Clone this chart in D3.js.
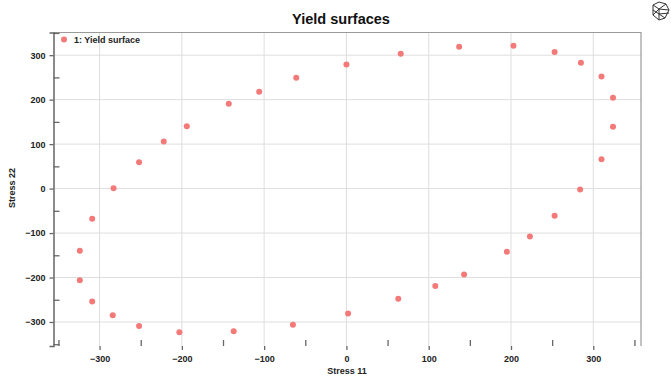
<!DOCTYPE html>
<html><head><meta charset="utf-8">
<script src="https://cdn.jsdelivr.net/npm/d3@7"></script>
<style>body{margin:0;background:#fff}svg{display:block}text{font-family:"Liberation Sans",Arial,sans-serif}</style>
</head><body><svg id="c" width="671" height="379"></svg>
<script>
const title = "Yield surfaces";
const seriesName = "1: Yield surface";
const xLabel = "Stress 11";
const yLabel = "Stress 22";
const xTicks = [-300,-200,-100,0,100,200,300];
const yTicks = [-300,-200,-100,0,100,200,300];
const stress11 = [0,66,137,203,253,285,310,324,324,310,284,253,223,195,143,108,63,2,-65,-137,-203,-252,-284,-309,-324,-324,-309,-283,-252,-222,-194,-143,-106,-61];
const stress22 = [279,303,319,321,307,283,252,204,139,66,-2,-61,-108,-142,-193,-219,-248,-281,-306,-321,-323,-309,-285,-254,-206,-140,-68,1,59,106,140,191,218,249];

const svg = d3.select("#c");
const L=53.5,R=641,T=32.5,B=346;
const x = d3.scaleLinear().domain([-356,358]).range([L,R]);
const y = d3.scaleLinear().domain([-354,351]).range([B,T]);

// grid
svg.append("g").selectAll("line").data(xTicks).join("line")
  .attr("x1",d=>x(d)).attr("x2",d=>x(d)).attr("y1",T).attr("y2",B)
  .attr("stroke","#dedede").attr("stroke-width",1);
svg.append("g").selectAll("line").data(yTicks).join("line")
  .attr("y1",d=>y(d)).attr("y2",d=>y(d)).attr("x1",L).attr("x2",R)
  .attr("stroke","#dedede").attr("stroke-width",1);

// frame
svg.append("path").attr("d",`M${L},${T}H${R}V${B}`).attr("fill","none").attr("stroke","#9a9a9a").attr("stroke-width",1.2);

// axes: major ticks outside, minor inside
const xMinor = d3.range(-350,351,50).filter(v=>v%100!==0);
const yMinor = d3.range(-350,351,50).filter(v=>v%100!==0);
const gx = svg.append("g").attr("transform",`translate(0,${B})`)
  .call(d3.axisBottom(x).tickValues(xTicks).tickSize(4).tickPadding(6));
gx.append("g").call(d3.axisTop(x).tickValues(xMinor).tickSize(6).tickFormat(""));
const gy = svg.append("g").attr("transform",`translate(${L},0)`)
  .call(d3.axisLeft(y).tickValues(yTicks).tickSize(4).tickPadding(4));
gy.append("g").call(d3.axisRight(y).tickValues(yMinor).tickSize(6).tickFormat(""));
svg.selectAll(".domain").attr("stroke","#666").attr("stroke-width",1.5);
gx.selectAll("g .domain").remove();
gy.selectAll("g g .domain").remove();
svg.selectAll(".tick line").attr("stroke","#666").attr("stroke-width",1.3);
svg.selectAll(".tick text").attr("font-size",9).attr("font-weight","bold").attr("fill","#222")
  .attr("font-family","Liberation Sans, Arial, sans-serif");

// points
svg.append("g").selectAll("circle").data(stress11.map((v,i)=>[v,stress22[i]])).join("circle")
  .attr("cx",d=>x(d[0])).attr("cy",d=>y(d[1])).attr("r",3)
  .attr("fill","#f47a7a");

// legend
svg.append("circle").attr("cx",64).attr("cy",39.5).attr("r",3).attr("fill","#f47a7a");
svg.append("text").attr("x",74).attr("y",42.5).attr("font-size",9).attr("font-weight","bold").attr("fill","#222").text(seriesName);

// title and labels
svg.append("text").attr("x",341).attr("y",24).attr("text-anchor","middle").attr("font-size",14.5).attr("font-weight","bold").attr("fill","#111").text(title);
svg.append("text").attr("x",347).attr("y",374).attr("text-anchor","middle").attr("font-size",9).attr("font-weight","bold").attr("fill","#222").text(xLabel);
svg.append("text").attr("transform","translate(15,188) rotate(-90)").attr("text-anchor","middle").attr("font-size",9).attr("font-weight","bold").attr("fill","#222").text(yLabel);

// small wireframe icon (decorative)
const ic = svg.append("g").attr("transform","translate(651,2)").attr("fill","none").attr("stroke","#333").attr("stroke-width",1);
ic.append("path").attr("d","M2,3L8,0L15,2L18,8L14,16L8,18L2,13Z M2,3L8,7L15,2 M8,7L8,18 M8,7L18,8 M8,7L2,13 M8,12L14,16 M8,12L2,8 M8,12L18,11");
</script></body></html>
